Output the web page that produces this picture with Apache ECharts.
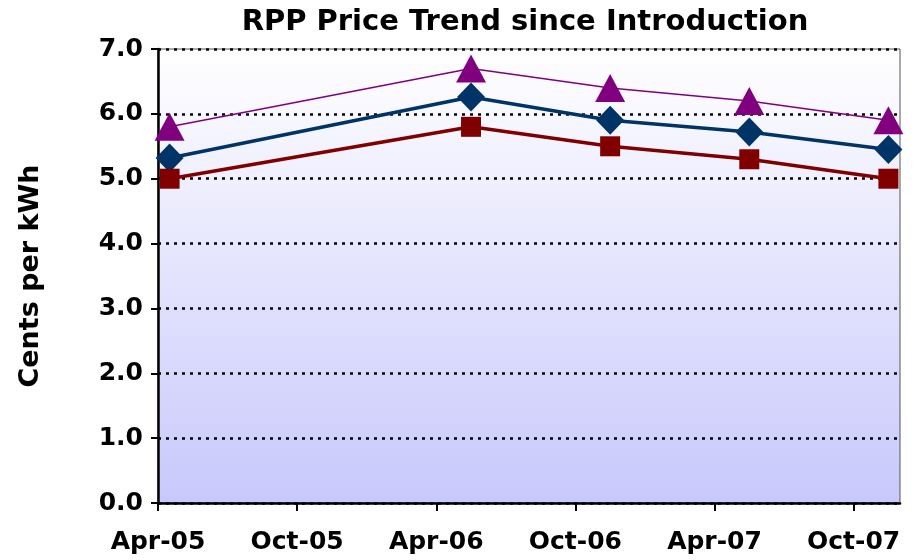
<!DOCTYPE html>
<html>
<head>
<meta charset="utf-8">
<title>RPP Price Trend</title>
<script src="https://cdn.jsdelivr.net/npm/echarts@6/dist/echarts.min.js"></script>
<style>
  html, body { margin: 0; padding: 0; background: #fff; }
  #main { width: 917px; height: 560px; }
</style>
</head>
<body>
<div id="main"></div>
<script>
// price change dates (year-month)
var priceDates = ['2005-04', '2006-05', '2006-11', '2007-05', '2007-11'];
// cents per kWh
var upperTier = [5.8, 6.7, 6.4, 6.2, 5.9];
var average = [5.32, 6.26, 5.9, 5.72, 5.45];
var lowerTier = [5.0, 5.8, 5.5, 5.3, 5.0];
// x axis labels, one per 6 months from Apr-05
var tickLabels = ['Apr-05', 'Oct-05', 'Apr-06', 'Oct-06', 'Apr-07', 'Oct-07'];
var tickMonths = [0, 6, 12, 18, 24, 30];

// months since Apr 2005, point sits mid month
function monthIndex(s) {
    var p = s.split('-');
    return (parseInt(p[0]) - 2005) * 12 + (parseInt(p[1]) - 4) + 0.5;
}

function pairs(vals) {
    return vals.map(function (v, i) { return [monthIndex(priceDates[i]), v]; });
}

var font = 'DejaVu Sans, Verdana, sans-serif';

var myChart = echarts.init(document.getElementById('main'));

var option = {
    backgroundColor: '#ffffff',
    title: {
        text: 'RPP Price Trend since Introduction',
        left: 520,
        textAlign: 'center',
        top: 3,
        textStyle: { fontFamily: font, fontWeight: 'bold', fontSize: 29, color: '#000' }
    },
    grid: {
        left: 158, right: 17, top: 49, bottom: 57,
        show: true,
        borderColor: '#555',
        borderWidth: 1,
        backgroundColor: {
            type: 'linear', x: 0, y: 0, x2: 0, y2: 1,
            colorStops: [{ offset: 0, color: '#ffffff' }, { offset: 1, color: '#c8c8fc' }]
        }
    },
    xAxis: {
        type: 'value',
        min: 0,
        max: 32,
        interval: 6,
        axisLine: { lineStyle: { color: '#000', width: 2.5 } },
        axisTick: { customValues: tickMonths, length: 8, lineStyle: { color: '#000', width: 2 } },
        splitLine: { show: false },
        axisLabel: {
            customValues: tickMonths,
            margin: 27,
            fontFamily: font, fontWeight: 'bold', fontSize: 25, color: '#000',
            formatter: function (v) { return tickLabels[Math.round(v / 6)]; }
        }
    },
    yAxis: {
        type: 'value',
        min: 0,
        max: 7,
        interval: 1,
        name: 'Cents per kWh',
        nameLocation: 'middle',
        nameGap: 114,
        nameRotate: 90,
        nameTextStyle: { fontFamily: font, fontWeight: 'bold', fontSize: 27, color: '#000' },
        axisLine: { show: true, lineStyle: { color: '#000', width: 2.5 } },
        axisTick: { show: true, length: 7, lineStyle: { color: '#000', width: 2 } },
        splitLine: { lineStyle: { color: '#000', width: 2.5, type: [3, 5] } },
        axisLabel: {
            margin: 15,
            fontFamily: font, fontWeight: 'bold', fontSize: 25, color: '#000',
            formatter: function (v) { return v.toFixed(1); }
        }
    },
    series: [
        {
            name: 'Upper tier',
            type: 'line',
            data: pairs(upperTier),
            symbol: 'triangle',
            symbolSize: [30, 28],
            lineStyle: { color: '#800080', width: 1.5 },
            itemStyle: { color: '#800080' },
            z: 3
        },
        {
            name: 'Average',
            type: 'line',
            data: pairs(average),
            symbol: 'diamond',
            symbolSize: [28, 29],
            lineStyle: { color: '#003366', width: 3.5 },
            itemStyle: { color: '#003366' },
            z: 4
        },
        {
            name: 'Lower tier',
            type: 'line',
            data: pairs(lowerTier),
            symbol: 'rect',
            symbolSize: 20,
            lineStyle: { color: '#800000', width: 3.5 },
            itemStyle: { color: '#800000' },
            z: 5
        }
    ]
};

myChart.setOption(option);
</script>
</body>
</html>
